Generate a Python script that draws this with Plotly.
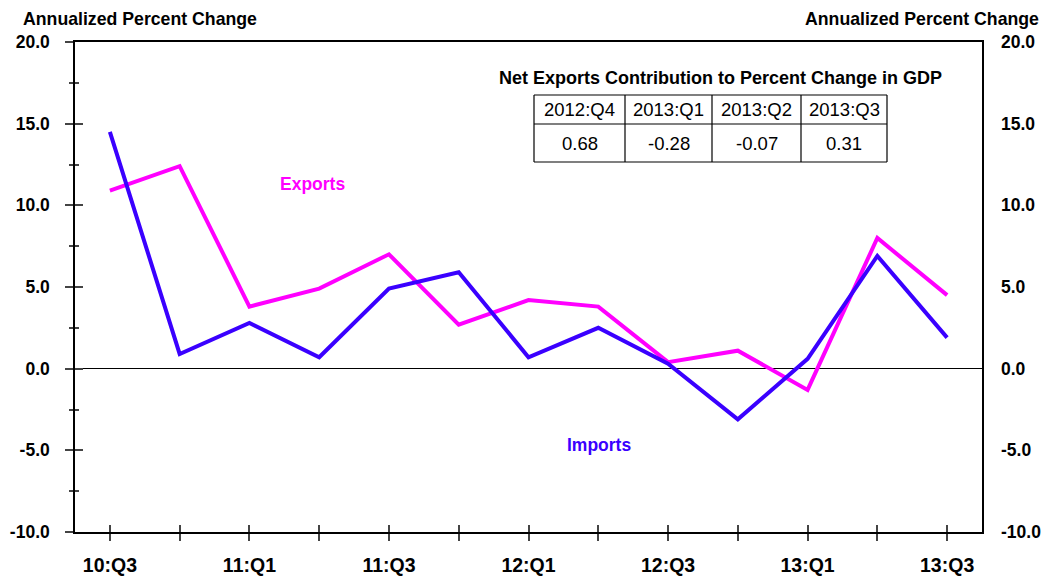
import plotly.graph_objects as go

quarters = ["10:Q3", "10:Q4", "11:Q1", "11:Q2", "11:Q3", "11:Q4", "12:Q1",
            "12:Q2", "12:Q3", "12:Q4", "13:Q1", "13:Q2", "13:Q3"]
exports = [10.9, 12.4, 3.8, 4.9, 7.0, 2.7, 4.2, 3.8, 0.4, 1.1, -1.3, 8.0, 4.5]
imports = [14.5, 0.9, 2.8, 0.7, 4.9, 5.9, 0.7, 2.5, 0.3, -3.1, 0.6, 6.9, 1.9]

tick_labels = [q if i % 2 == 0 else "" for i, q in enumerate(quarters)]
y_ticks = [-10, -5, 0, 5, 10, 15, 20]
y_ticktext = [f"{v:.1f}" for v in y_ticks]

table_title = "Net Exports Contribution to Percent Change in GDP"
table_headers = ["2012:Q4", "2013:Q1", "2013:Q2", "2013:Q3"]
table_values = ["0.68", "-0.28", "-0.07", "0.31"]

FONT = "Liberation Sans, Arial, sans-serif"
MAGENTA = "#FF00FF"
BLUE = "#3A00FF"

fig = go.Figure()
fig.add_trace(go.Scatter(x=quarters, y=exports, mode="lines", name="Exports",
                         line=dict(color=MAGENTA, width=4), showlegend=False))
fig.add_trace(go.Scatter(x=quarters, y=imports, mode="lines", name="Imports",
                         line=dict(color=BLUE, width=4), showlegend=False))
# invisible traces to anchor overlay axes
fig.add_trace(go.Scatter(x=quarters, y=exports, xaxis="x2", yaxis="y2", mode="lines",
                         line=dict(width=0), opacity=0, showlegend=False, hoverinfo="skip"))
fig.add_trace(go.Scatter(x=quarters, y=exports, xaxis="x", yaxis="y3", mode="lines",
                         line=dict(width=0), opacity=0, showlegend=False, hoverinfo="skip"))

xtickfont = dict(family=FONT, size=19.5, color="black", weight="bold")
ytickfont = dict(family=FONT, size=17.5, color="black", weight="bold")
yrange = [-10, 20]

fig.update_layout(
    width=1047, height=568,
    margin=dict(l=67, r=73, t=34, b=44),
    paper_bgcolor="white", plot_bgcolor="white",
    font=dict(family=FONT),
    xaxis=dict(type="category", categoryorder="array", categoryarray=quarters,
               range=[-0.5, 12.5], tickvals=quarters, ticktext=tick_labels,
               ticks="outside", ticklen=7, tickcolor="#444", tickwidth=1.5,
               showline=True, linecolor="black", linewidth=1.5, mirror=True,
               showgrid=False, zeroline=False, tickfont=xtickfont, ticklabelstandoff=8,
               automargin=False),
    xaxis2=dict(type="category", categoryorder="array", categoryarray=quarters,
                range=[-0.5, 12.5], overlaying="x", side="bottom", matches="x",
                tickvals=quarters, ticks="inside", ticklen=7, tickcolor="#444", tickwidth=1.5,
                showticklabels=False, showgrid=False, zeroline=False, showline=False,
                automargin=False),
    yaxis=dict(range=yrange, tickvals=y_ticks, ticktext=y_ticktext,
               ticks="outside", ticklen=8, tickcolor="#444", tickwidth=1.5,
               minor=dict(dtick=2.5, ticks="outside", ticklen=4, tickcolor="#444", tickwidth=1.5),
               showline=True, linecolor="black", linewidth=1.5, mirror=True,
               showgrid=False, zeroline=True, zerolinecolor="black", zerolinewidth=1.2,
               tickfont=ytickfont, ticklabelstandoff=12, automargin=False),
    yaxis3=dict(range=yrange, overlaying="y", side="left", tickvals=y_ticks,
                ticks="inside", ticklen=8, tickcolor="#444", tickwidth=1.5,
                minor=dict(dtick=2.5, ticks="inside", ticklen=4, tickcolor="#444", tickwidth=1.5),
                showticklabels=False, showgrid=False, zeroline=False, showline=False,
                automargin=False),
    yaxis2=dict(range=yrange, overlaying="y", side="right", tickvals=y_ticks,
                ticktext=y_ticktext, ticks="", showgrid=False, zeroline=False,
                showline=False, tickfont=ytickfont, ticklabelstandoff=18, automargin=False),
)

fig.add_annotation(text="<b>Annualized Percent Change</b>", xref="paper", yref="paper",
                   x=-0.06, y=1.047, xanchor="left", yanchor="middle", showarrow=False,
                   font=dict(family=FONT, size=17.7, color="black"))
fig.add_annotation(text="<b>Annualized Percent Change</b>", xref="paper", yref="paper",
                   x=1.0645, y=1.047, xanchor="right", yanchor="middle", showarrow=False,
                   font=dict(family=FONT, size=17.7, color="black"))
fig.add_annotation(text="<b>Exports</b>", x=2.9, y=11.3, xref="x", yref="y",
                   showarrow=False, font=dict(family=FONT, size=17.5, color=MAGENTA))
fig.add_annotation(text="<b>Imports</b>", x=7.01, y=-4.7, xref="x", yref="y",
                   showarrow=False, font=dict(family=FONT, size=17.5, color=BLUE))

# table (paper coords)
def px_x(px):
    return (px - 75) / 907.0

def px_y(py):
    return (532 - py) / 490.0

fig.add_annotation(text=f"<b>{table_title}</b>", xref="paper", yref="paper",
                   x=px_x(720), y=px_y(78), xanchor="center", yanchor="middle",
                   showarrow=False, font=dict(family=FONT, size=18, color="black"))
col_edges = [534, 625, 712, 801, 887]
row_edges = [95, 124, 162]
for ry in row_edges:
    fig.add_shape(type="line", xref="paper", yref="paper",
                  x0=px_x(col_edges[0]), x1=px_x(col_edges[-1]), y0=px_y(ry), y1=px_y(ry),
                  line=dict(color="black", width=1.2))
for cx in col_edges:
    fig.add_shape(type="line", xref="paper", yref="paper",
                  x0=px_x(cx), x1=px_x(cx), y0=px_y(row_edges[0]), y1=px_y(row_edges[-1]),
                  line=dict(color="black", width=1.2))
for i, (h, v) in enumerate(zip(table_headers, table_values)):
    cxm = (col_edges[i] + col_edges[i + 1]) / 2
    fig.add_annotation(text=h, xref="paper", yref="paper", x=px_x(cxm),
                       y=px_y((row_edges[0] + row_edges[1]) / 2), showarrow=False,
                       xanchor="center", yanchor="middle",
                       font=dict(family=FONT, size=18.5, color="black"))
    fig.add_annotation(text=v, xref="paper", yref="paper", x=px_x(cxm),
                       y=px_y((row_edges[1] + row_edges[2]) / 2), showarrow=False,
                       xanchor="center", yanchor="middle",
                       font=dict(family=FONT, size=18.5, color="black"))

fig.write_html("out.html")
